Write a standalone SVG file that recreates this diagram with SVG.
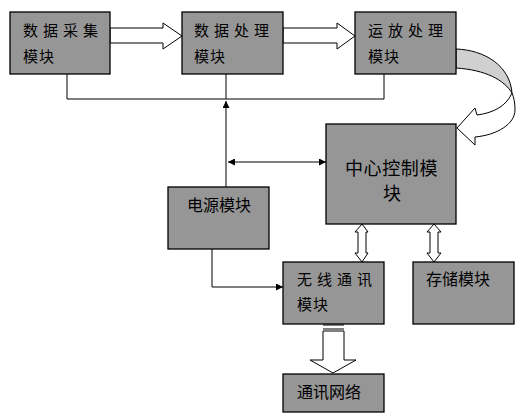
<svg xmlns="http://www.w3.org/2000/svg" width="521" height="415" viewBox="0 0 521 415">
<defs>
<style>
.box{fill:#969696;stroke:#000;stroke-width:1.3}
.t{font-family:"Noto Sans CJK SC","Noto Sans",sans-serif;fill:#000}
.t15{font-size:15px}
.t16{font-size:16px}
.t18{font-size:18px}
.ln{fill:none;stroke:#000;stroke-width:1}
.hollow{fill:#fff;stroke:#000;stroke-width:1}
</style>
<marker id="ah" viewBox="0 0 10 10" refX="10" refY="5" markerWidth="7" markerHeight="7" markerUnits="userSpaceOnUse" orient="auto-start-reverse">
<path d="M0,0 L10,5 L0,10 Z" fill="#000"/>
</marker>
</defs>
<rect width="521" height="415" fill="#fff"/>

<g id="connectors">
<!-- bus -->
<path class="ln" d="M67,74 V99 H384 V74"/>
<path class="ln" d="M226,74 V99"/>
<path class="ln" d="M226,187 V101" marker-end="url(#ah)"/>
<path class="ln" d="M228,162 H326" marker-start="url(#ah)" marker-end="url(#ah)"/>
<path class="ln" d="M212,249 V287 H283" marker-end="url(#ah)"/>
<!-- hollow horizontal arrows -->
<path class="hollow" d="M110,28 H163 V23 L182,36 L163,49 V43 H110 Z"/>
<path class="hollow" d="M283,28 H337 V23 L355,36 L337,49 V43 H283 Z"/>
<!-- curved arrow -->
<path d="M456,49 C485,50 510,66 512,93 C504,80 486,70 456,68 Z" fill="#d0d0d0" stroke="#000" stroke-width="1"/>
<path class="hollow" d="M512,93 C506,107 492,113 477,115 L475,108 L457,128 L475,145 L475,137 C497,135 515,124 515,110 C515,103 514,98 512,93 Z"/>
<!-- vertical double hollow arrows -->
<path class="hollow" d="M362,224 L368,232 H366 V253 H368 L362,262 L355,253 H358 V232 H355 Z"/>
<path class="hollow" d="M434,224 L441,232 H438 V253 H441 L434,262 L427,253 H430 V232 H427 Z"/>
<!-- down arrow -->
<path class="hollow" d="M323,331 H344 V360 H356 L333,373 L310,360 H323 Z"/>
<path d="M323,325 H344 M323,329 H344" stroke="#000" stroke-width="1.2"/>
</g>

<g id="n1">
<rect class="box" x="10" y="12" width="100" height="62"/>
<text class="t t15" x="23" y="36" letter-spacing="5">数据采集</text>
<text class="t t15" x="23" y="62" letter-spacing="1">模块</text>
</g>
<g id="n2">
<rect class="box" x="182" y="12" width="101" height="62"/>
<text class="t t15" x="194" y="36" letter-spacing="5">数据处理</text>
<text class="t t15" x="194" y="62" letter-spacing="1">模块</text>
</g>
<g id="n3">
<rect class="box" x="355" y="12" width="101" height="62"/>
<text class="t t15" x="368" y="36" letter-spacing="5">运放处理</text>
<text class="t t15" x="368" y="62" letter-spacing="1">模块</text>
</g>
<g id="n4">
<rect class="box" x="326" y="124" width="130" height="100"/>
<text class="t t18" x="345" y="175" letter-spacing="0.6">中心控制模</text>
<text class="t t18" x="383" y="200">块</text>
</g>
<g id="n5">
<rect class="box" x="168" y="187" width="101" height="62"/>
<text class="t t16" x="187" y="211">电源模块</text>
</g>
<g id="n6">
<rect class="box" x="283" y="262" width="101" height="62"/>
<text class="t t15" x="297" y="285" letter-spacing="5">无线通讯</text>
<text class="t t15" x="297" y="310" letter-spacing="1">模块</text>
</g>
<g id="n7">
<rect class="box" x="413" y="262" width="101" height="62"/>
<text class="t t16" x="426" y="285">存储模块</text>
</g>
<g id="n8">
<rect class="box" x="283" y="374" width="101" height="38"/>
<text class="t t16" x="297" y="398">通讯网络</text>
</g>
</svg>
